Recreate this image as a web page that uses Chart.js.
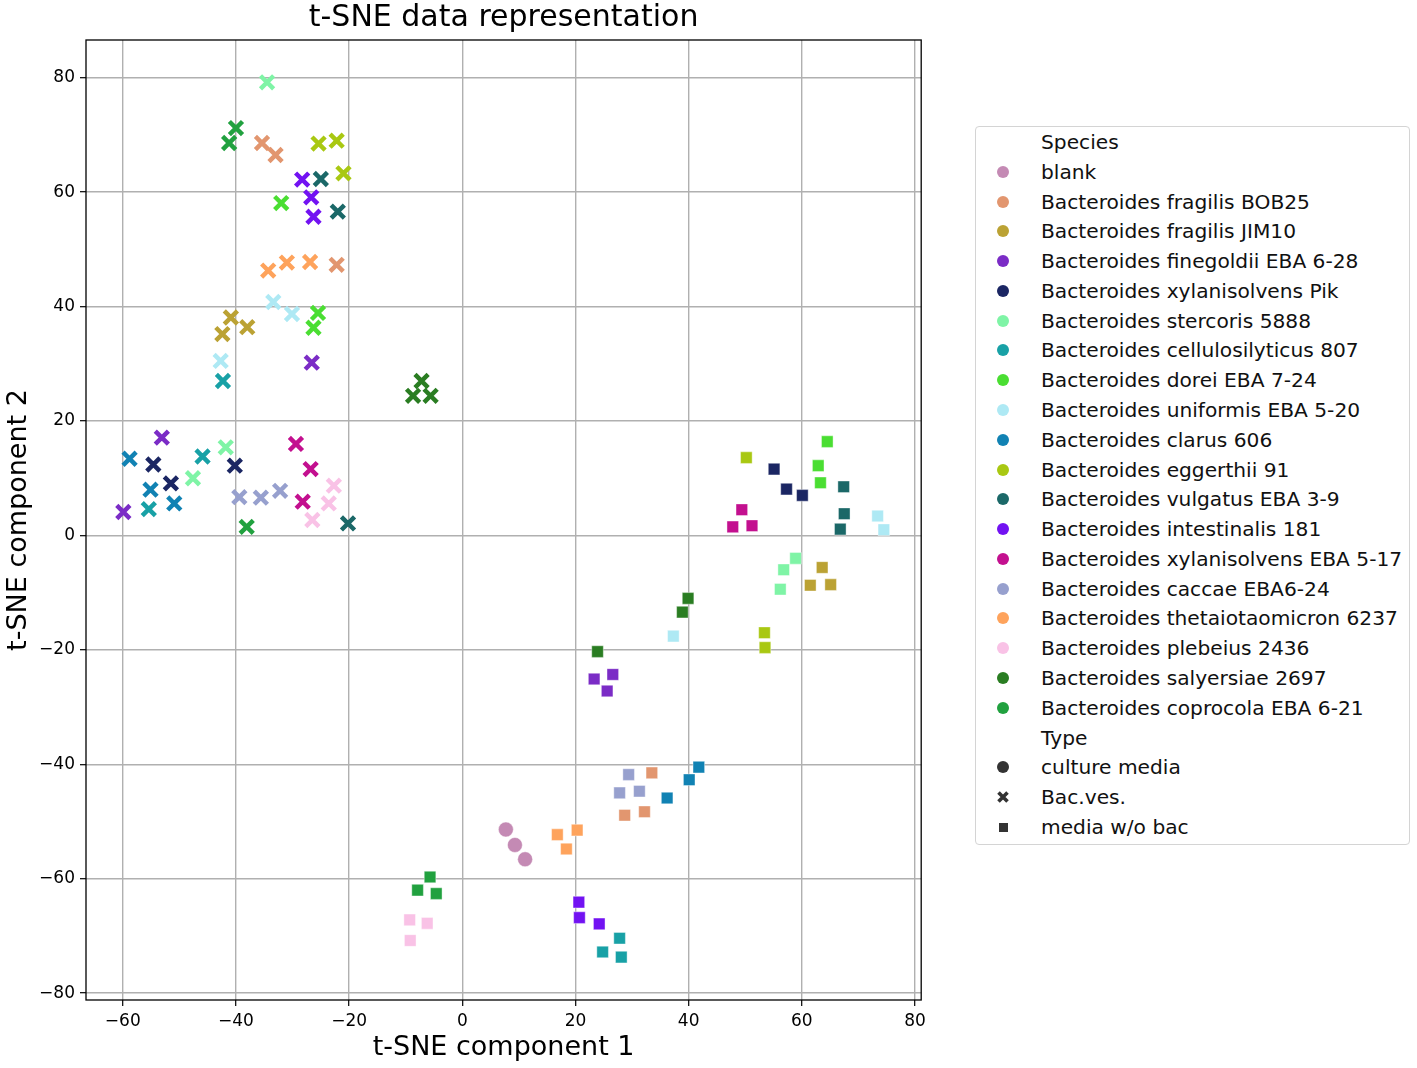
<!DOCTYPE html>
<html>
<head>
<meta charset="utf-8">
<title>t-SNE data representation</title>
<script src="https://cdn.jsdelivr.net/npm/chart.js@4.4.1/dist/chart.umd.min.js"></script>
<style>
    body { margin: 0; background: #fff; font-family: 'DejaVu Sans', sans-serif; }
    #wrap { position: absolute; left: 0; top: 0; width: 935px; height: 1068px; }
    #legend { position: absolute; left: 975px; top: 126px; width: 435px; height: 719px;
              border: 1px solid #d4d4d4; border-radius: 4px; box-sizing: border-box; }
    .row { position: absolute; left: 0; height: 30px; line-height: 30px; font-size: 20.2px;
           color: #111; white-space: nowrap; }
    .row .lab { position: absolute; left: 65px; }
    .row .mk { position: absolute; left: 21px; top: 9px; width: 12px; height: 12px; }
    .row .mk svg { display: block; }
</style>
</head>
<body>
<div id="wrap"><canvas id="tsneChart"></canvas></div>
<div id="legend"></div>
<script>
// Species names and palette (index 0 = blank)
const speciesNames = [
    'blank',
    'Bacteroides fragilis BOB25',
    'Bacteroides fragilis JIM10',
    'Bacteroides finegoldii EBA 6-28',
    'Bacteroides xylanisolvens Pik',
    'Bacteroides stercoris 5888',
    'Bacteroides cellulosilyticus 807',
    'Bacteroides dorei EBA 7-24',
    'Bacteroides uniformis EBA 5-20',
    'Bacteroides clarus 606',
    'Bacteroides eggerthii 91',
    'Bacteroides vulgatus EBA 3-9',
    'Bacteroides intestinalis 181',
    'Bacteroides xylanisolvens EBA 5-17',
    'Bacteroides caccae EBA6-24',
    'Bacteroides thetaiotaomicron 6237',
    'Bacteroides plebeius 2436',
    'Bacteroides salyersiae 2697',
    'Bacteroides coprocola EBA 6-21'
];
const speciesColors = [
    '#c48ab4', '#e2966f', '#bba234', '#7b2cc6', '#1b2663', '#7ff4a6',
    '#18a1a6', '#4ade32', '#aee9f4', '#1182b3', '#a9c812', '#1b6868',
    '#7212f2', '#c3108f', '#97a0ce', '#fea35c', '#f9c2e6', '#2a7d22', '#21a13f'
];
const typeNames = ['culture media', 'Bac.ves.', 'media w/o bac'];

// culture media (circles)
const cultureSpecies = [0, 0, 0];
const cultureX = [7.7, 9.3, 11.1];
const cultureY = [-51.4, -54.1, -56.6];

// Bac.ves. (crosses)
const vesSpecies = [1, 1, 1, 2, 2, 2, 3, 3, 3, 4, 4, 4, 5, 5, 5, 6, 6, 6, 7, 7, 7, 8, 8, 8, 9, 9, 9,
    10, 10, 10, 11, 11, 11, 12, 12, 12, 13, 13, 13, 14, 14, 14, 15, 15, 15, 16, 16, 16, 17, 17, 17, 18, 18, 18];
const vesX = [-35.4, -33.0, -22.2, -40.9, -38.0, -42.4, -26.6, -53.1, -59.9, -54.6, -51.5, -40.2,
    -34.5, -41.8, -47.6, -42.3, -45.9, -55.4, -32.0, -25.5, -26.3, -33.4, -30.1, -42.7,
    -58.8, -55.1, -50.9, -25.4, -22.2, -21.0, -25.0, -22.0, -20.2, -28.3, -26.7, -26.3,
    -29.4, -26.8, -28.2, -39.4, -35.6, -32.2, -34.3, -31.0, -26.9, -22.7, -23.6, -26.5,
    -7.2, -8.7, -5.6, -40.0, -41.2, -38.1];
const vesY = [68.6, 66.5, 47.3, 38.1, 36.4, 35.2, 30.2, 17.1, 4.1, 12.4, 9.1, 12.2,
    79.2, 15.4, 10.0, 27.0, 13.8, 4.6, 58.1, 38.9, 36.3, 40.8, 38.7, 30.5,
    13.4, 8.0, 5.6, 68.5, 69.0, 63.3, 62.3, 56.6, 2.1, 62.2, 59.1, 55.7,
    16.0, 11.6, 5.9, 6.7, 6.6, 7.8, 46.3, 47.7, 47.8, 8.7, 5.6, 2.7,
    27.0, 24.4, 24.4, 71.2, 68.6, 1.5];

// media w/o bac (squares)
const mediaSpecies = vesSpecies.slice();
const mediaX = [33.5, 28.7, 32.2, 63.6, 61.5, 65.1, 23.3, 26.6, 25.6, 55.1, 57.3, 60.1,
    58.9, 56.8, 56.2, 27.8, 24.8, 28.1, 64.5, 62.9, 63.3, 73.4, 74.5, 37.3,
    41.8, 40.1, 36.2, 50.2, 53.4, 53.5, 67.4, 67.5, 66.8, 20.6, 20.7, 24.2,
    49.4, 47.8, 51.2, 29.4, 27.8, 31.3, 16.8, 20.3, 18.4, -9.3, -6.2, -9.2,
    39.9, 38.9, 23.9, -5.7, -7.9, -4.6];
const mediaY = [-41.5, -48.9, -48.3, -5.6, -8.7, -8.6, -25.1, -24.3, -27.2, 11.6, 8.1, 7.0,
    -4.0, -6.0, -9.4, -70.4, -72.8, -73.7, 16.4, 12.2, 9.2, 3.4, 1.0, -17.6,
    -40.5, -42.7, -45.9, 13.6, -17.0, -19.6, 8.5, 3.8, 1.1, -64.1, -66.8, -67.9,
    4.5, 1.5, 1.7, -41.8, -45.0, -44.7, -52.3, -51.5, -54.8, -67.2, -67.8, -70.8,
    -11.0, -13.4, -20.3, -59.7, -62.0, -62.6];

const xTicks = [-60, -40, -20, 0, 20, 40, 60, 80];
const yTicks = [-80, -60, -40, -20, 0, 20, 40, 60, 80];

function toPoints(xs, ys) {
    return xs.map((x, i) => ({ x: x, y: ys[i] }));
}
function fmt(v) {
    return v < 0 ? '\u2212' + Math.abs(v) : String(v);
}

// black frame around the plot area
const frame = {
    id: 'frame',
    afterDraw(chart) {
        const { ctx, chartArea: a } = chart;
        ctx.save();
        ctx.strokeStyle = '#000';
        ctx.lineWidth = 1.3;
        ctx.strokeRect(a.left, a.top, a.right - a.left, a.bottom - a.top);
        ctx.restore();
    }
};

const tickFont = { family: 'DejaVu Sans', size: 17 };
const titleFont = { family: 'DejaVu Sans', size: 27 };

new Chart(document.getElementById('tsneChart'), {
    type: 'scatter',
    data: {
        datasets: [
            {
                label: typeNames[0],
                data: toPoints(cultureX, cultureY),
                pointStyle: 'circle',
                pointRadius: 7.5,
                pointBackgroundColor: cultureSpecies.map(s => speciesColors[s]),
                pointBorderColor: 'rgba(255,255,255,0.6)',
                pointBorderWidth: 0.8
            },
            {
                label: typeNames[1],
                data: toPoints(vesX, vesY),
                pointStyle: 'crossRot',
                pointRadius: 9.3,
                pointBorderColor: vesSpecies.map(s => speciesColors[s]),
                pointBackgroundColor: vesSpecies.map(s => speciesColors[s]),
                pointBorderWidth: 4.5
            },
            {
                label: typeNames[2],
                data: toPoints(mediaX, mediaY),
                pointStyle: 'rect',
                pointRadius: 8.2,
                pointBackgroundColor: mediaSpecies.map(s => speciesColors[s]),
                pointBorderColor: 'rgba(255,255,255,0.5)',
                pointBorderWidth: 0.8
            }
        ]
    },
    options: {
        responsive: true,
        maintainAspectRatio: false,
        animation: false,
        events: [],
        layout: { padding: { top: 0, right: 13, bottom: 0, left: 0 } },
        plugins: {
            legend: { display: false },
            tooltip: { enabled: false },
            title: {
                display: true,
                fullSize: false,
                text: 't-SNE data representation',
                color: '#000',
                font: { family: 'DejaVu Sans', size: 30, weight: 'normal' },
                padding: { top: 0.5, bottom: 3.5 }
            }
        },
        scales: {
            x: {
                type: 'linear',
                min: -66.5,
                max: 81.1,
                afterFit: scale => { scale.height = 68; },
                afterBuildTicks: scale => { scale.ticks = xTicks.map(v => ({ value: v })); },
                grid: { color: '#b0b0b0', lineWidth: 1.4, tickColor: '#000', tickLength: 6, tickWidth: 1.2 },
                border: { display: false },
                ticks: { color: '#000', font: tickFont, padding: 5, maxRotation: 0, callback: fmt },
                title: { display: true, text: 't-SNE component 1', color: '#000', font: titleFont,
                         padding: { top: 0, bottom: 4 } }
            },
            y: {
                type: 'linear',
                min: -81.2,
                max: 86.6,
                afterFit: scale => { scale.width = 86; },
                afterBuildTicks: scale => { scale.ticks = yTicks.map(v => ({ value: v })); },
                grid: { color: '#b0b0b0', lineWidth: 1.4, tickColor: '#000', tickLength: 6, tickWidth: 1.2 },
                border: { display: false },
                ticks: { color: '#000', font: tickFont, padding: 5, callback: fmt },
                title: { display: true, text: 't-SNE component 2', color: '#000', font: titleFont,
                         padding: { top: 2.5, bottom: 0 } }
            }
        }
    },
    plugins: [frame]
});

// Legend (HTML, outside the axes like the original)
function buildLegend() {
    const box = document.getElementById('legend');
    const rows = [{ text: 'Species' }];
    speciesNames.forEach((n, i) => rows.push({ text: n, marker: 'circle', color: speciesColors[i] }));
    rows.push({ text: 'Type' });
    rows.push({ text: typeNames[0], marker: 'circle', color: '#333' });
    rows.push({ text: typeNames[1], marker: 'cross', color: '#333' });
    rows.push({ text: typeNames[2], marker: 'square', color: '#333' });

    const step = 29.78;
    rows.forEach((r, i) => {
        const row = document.createElement('div');
        row.className = 'row';
        row.style.top = (i * step) + 'px';
        if (r.marker) {
            const mk = document.createElement('div');
            mk.className = 'mk';
            if (r.marker === 'circle') {
                mk.style.background = r.color;
                mk.style.borderRadius = '50%';
            } else if (r.marker === 'square') {
                mk.style.left = '23px';
                mk.style.top = '11px';
                mk.style.width = '9px';
                mk.style.height = '9px';
                mk.style.background = r.color;
            } else {
                mk.innerHTML = '<svg width="12" height="12" viewBox="0 0 12 12">' +
                    '<path d="M1.5 1.5 L10.5 10.5 M10.5 1.5 L1.5 10.5" stroke="' + r.color +
                    '" stroke-width="3.6"/></svg>';
            }
            row.appendChild(mk);
        }
        const lab = document.createElement('span');
        lab.className = 'lab';
        lab.textContent = r.text;
        row.appendChild(lab);
        box.appendChild(row);
    });
}
buildLegend();
</script>
</body>
</html>
